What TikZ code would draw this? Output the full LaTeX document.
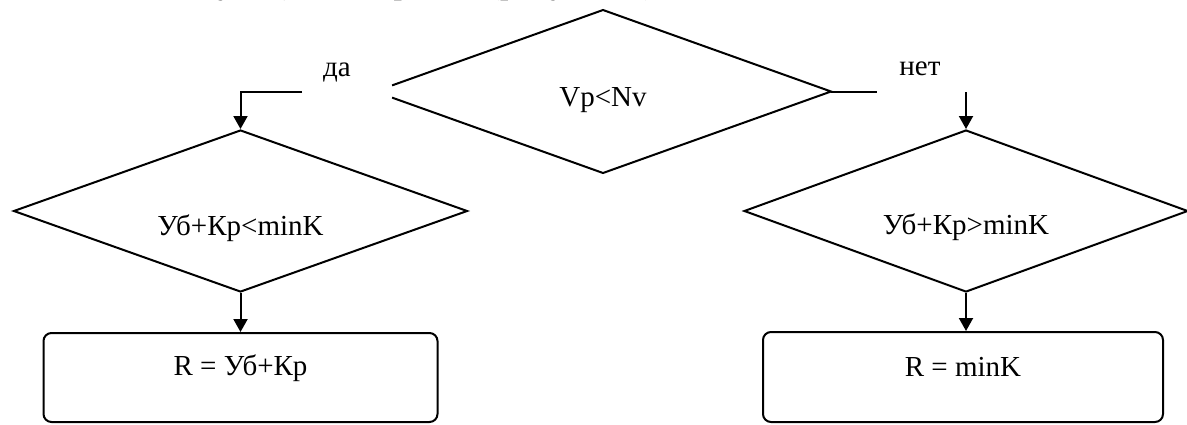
\documentclass[tikz,border=0pt]{standalone}
\usepackage{fontspec}
\setmainfont{Liberation Serif}
\usetikzlibrary{shapes.geometric,arrows.meta,calc}
\begin{document}
\begin{tikzpicture}[x=0.5pt,y=-0.5pt,
  line width=1pt,
  dec/.style={diamond,draw,inner sep=0pt,line join=miter},
  proc/.style={rectangle,draw,rounded corners=4pt,inner sep=0pt},
  lbl/.style={font=\fontsize{14.5pt}{17pt}\selectfont,inner sep=0pt},
  arr/.style={-{Triangle[width=7pt,length=6.5pt]}}]
\useasboundingbox (0,0) rectangle (1187,424);
\clip (0,0) rectangle (1187,424);
% cut-off body text line at the top
\node[font=\fontsize{17pt}{20pt}\selectfont,anchor=base east,inner sep=0pt] (body) at (665,-7) {на следующем алгоритме (рисунок 3).};
% top decision
\node[minimum width=227pt,minimum height=80.5pt,diamond,inner sep=0pt] (d0) at (603,91.5) {};
\draw[line join=miter] ($(d0.west)!0.075!(d0.north)$) -- (d0.north) -- (d0.east) -- (d0.south) -- ($(d0.west)!0.075!(d0.south)$);
\node[lbl] (t0) at (603,100) {Vp<Nv};
% left branch
\node[dec,minimum width=227pt,minimum height=81pt] (d1) at (240.5,211) {};
\node[lbl] (t1) at (240.5,228) {Уб+Кр<minK};
\node[proc,minimum width=197pt,minimum height=44.5pt] (b1) at (240.5,377.5) {};
\node[lbl] (tb1) at (240.5,368) {R = Уб+Кр};
% right branch
\node[dec,minimum width=222pt,minimum height=81pt] (d2) at (966,211) {};
\node[lbl] (t2) at (966,227) {Уб+Кр>minK};
\node[proc,minimum width=200pt,minimum height=45pt] (b2) at (963,377) {};
\node[lbl] (tb2) at (963,367) {R = minK};
% branch labels
\node[lbl] (da) at (337,72) {да};
\node[lbl] (net) at (920,69) {нет};
% connectors
\coordinate (dastart) at (302,91.5);
\coordinate (netend) at (877,91.5);
\coordinate (netstart) at (966,92);
\draw[arr] (dastart) -| (d1.north);
\draw (d0.east) -- (netend);
\draw[arr] (netstart) -- (d2.north);
\draw[arr] (d1.south) -- (d1.south |- b1.north);
\draw[arr] (d2.south) -- (d2.south |- b2.north);
\end{tikzpicture}
\end{document}
